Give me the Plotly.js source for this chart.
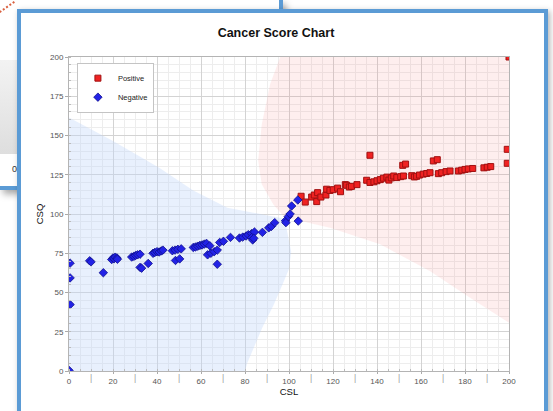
<!DOCTYPE html>
<html>
<head>
<meta charset="utf-8">
<script src="https://cdn.plot.ly/plotly-3.0.1.min.js"></script>
<style>
  html, body { margin:0; padding:0; }
  body { width:553px; height:411px; overflow:hidden; background:#fff; position:relative; font-family:"Liberation Sans", Arial, sans-serif; }
  #back { position:absolute; left:0; top:0; width:279px; height:186px; background:#fff;
          border-right:4px solid #5b9bd5; border-bottom:4px solid #5b9bd5;
          box-shadow:3px 4px 7px rgba(0,0,0,0.35); }
  #backband { position:absolute; left:0; top:60px; width:60px; height:94px;
              background:linear-gradient(to bottom,#f3f3f3,#dedede); }
  #backline { position:absolute; left:-2px; top:6px; width:18px; height:0;
              border-top:2px dotted #d9603f; transform:rotate(-35deg); }
  #backzero { position:absolute; left:12px; top:164px; font-size:9px; color:#333; }
  #frame { position:absolute; left:17px; top:9px; width:523px; height:420px; background:#fff;
           border:4px solid #5b9bd5; box-shadow:2px 2px 6px rgba(0,0,0,0.3); }
  #chart { position:absolute; left:0; top:0; width:553px; height:411px; }
</style>
</head>
<body>
<div id="back"><div id="backband"></div><div id="backline"></div><span id="backzero">0</span></div>
<div id="frame"></div>
<div id="chart"></div>
<script>
// ---- data ----
var chartTitle = 'Cancer Score Chart';
var xTitle = 'CSL';
var yTitle = 'CSQ';
var seriesNames = ['Positive', 'Negative'];

var positiveX = [105.5,107.4,110.3,111.5,113.0,112.6,114.5,116.8,117.1,118.6,120.1,122.1,123.4,125.6,126.2,127.4,128.4,130.9,
                 135.3,136.8,136.8,138.6,140.0,141.5,142.9,144.5,145.4,146.5,147.6,149.0,150.8,152.0,151.7,153.0,
                 155.8,157.0,158.0,159.3,161.0,162.6,164.1,165.6,167.4,167.9,169.4,171.4,173.2,177.0,178.5,180.0,
                 181.5,183.5,188.6,190.1,191.7,199.2,199.2,200.0];
var positiveY = [111.3,107.6,110.8,112.1,113.6,107.9,110.8,112.1,115.8,115.0,115.5,116.5,114.2,118.7,118.3,117.2,117.6,118.7,
                 121.5,120.1,137.4,120.5,121.2,121.9,122.8,123.5,121.6,123.0,124.2,123.2,123.8,124.2,131.0,131.8,
                 124.4,123.6,124.0,124.8,125.4,125.8,126.3,133.8,134.6,125.7,126.3,127.0,127.4,127.4,127.9,128.4,
                 128.7,129.0,129.4,129.8,130.2,141.2,132.3,200.0];

var negativeX = [0.0,0.5,0.5,0.5,9.4,10.0,15.6,19.4,20.0,20.5,21.0,21.8,22.0,28.5,29.5,30.3,31.2,32.3,32.3,33.0,36.0,
                 38.2,39.0,40.0,41.0,42.0,42.7,47.0,48.2,49.5,51.0,48.4,50.3,56.5,57.5,58.5,59.5,60.5,61.5,62.5,64.0,
                 63.0,64.5,66.0,67.4,67.4,68.5,70.2,73.4,77.5,79.0,80.5,81.5,83.0,84.3,83.0,83.5,84.0,87.9,90.8,92.0,
                 93.5,98.4,98.6,99.7,100.5,101.2,104.0,104.2];
var negativeY = [0.4,42.3,59.3,68.7,70.2,69.5,62.6,71.0,72.0,71.5,72.5,72.0,71.2,72.6,73.0,73.6,74.0,74.4,66.0,65.5,68.5,
                 75.0,75.5,76.0,75.8,76.5,77.0,76.6,77.0,77.5,77.8,70.4,71.4,78.7,79.0,79.5,80.0,80.3,80.8,81.3,79.8,
                 74.0,75.0,76.0,68.0,77.0,81.9,82.6,85.1,84.7,85.3,86.0,86.8,87.5,88.5,85.0,83.5,84.5,88.3,91.2,92.1,
                 94.5,95.7,94.5,98.4,100.0,105.1,108.9,95.5];

// shaded decision regions (boundary points)
var negRegionX = [0, 20, 41, 56.5, 72, 87, 98, 101, 100, 97, 93, 88, 84, 81, 80, 0, 0];
var negRegionY = [161.5, 146.5, 129.5, 115, 104, 100, 97, 76, 65, 55, 42, 28, 15, 5, 0, 0, 161.5];
var posRegionX = [96, 91.4, 87.6, 86, 87.6, 92.9, 98, 118.6, 141.4, 164, 182.3, 200, 200, 96];
var posRegionY = [200, 182.6, 157, 134, 119, 106, 98, 91.3, 80.7, 63.7, 46.7, 30.8, 200, 200];

var xMajorTicks = [0,20,40,60,80,100,120,140,160,180,200];
var xBetweenTicks = [10,30,50,70,90,110,130,150,170,190];

// ---- build figure ----
var font = 'Liberation Sans, Arial, sans-serif';
var traces = [
  { x: negRegionX, y: negRegionY, type:'scatter', mode:'lines', fill:'toself',
    fillcolor:'rgba(190,214,250,0.36)', line:{width:0}, showlegend:false, hoverinfo:'skip' },
  { x: posRegionX, y: posRegionY, type:'scatter', mode:'lines', fill:'toself',
    fillcolor:'rgba(245,120,120,0.13)', line:{width:0}, showlegend:false, hoverinfo:'skip' },
  { x: [], y: [], xaxis:'x2', type:'scatter', mode:'markers', showlegend:false, hoverinfo:'skip' },
  { x: positiveX, y: positiveY, name: seriesNames[0], type:'scatter', mode:'markers',
    marker:{symbol:'square', size:6, color:'#f02222', line:{color:'#a01010', width:1}} },
  { x: negativeX, y: negativeY, name: seriesNames[1], type:'scatter', mode:'markers',
    marker:{symbol:'diamond', size:6.5, color:'#2222e6', line:{color:'#10108c', width:0.8}} }
];

var layout = {
  width:553, height:411,
  margin:{l:69, r:44, t:57, b:40, pad:0},
  paper_bgcolor:'rgba(0,0,0,0)', plot_bgcolor:'#ffffff',
  font:{family:font, size:8, color:'#555'},
  title:{text:chartTitle, font:{family:font, size:12.5, weight:'bold', color:'#111'},
         xref:'container', x:276/553, xanchor:'center', yref:'container', y:1-33/411, yanchor:'middle'},
  showlegend:true,
  legend:{x:0.018, y:0.982, xanchor:'left', yanchor:'top', bgcolor:'#fff', bordercolor:'#c4c4c4', borderwidth:1,
          font:{family:font, size:7.5, color:'#222'}, itemwidth:30, tracegroupgap:0},
  xaxis:{range:[0,200], tickvals:xMajorTicks, ticktext:xMajorTicks.map(String),
         showgrid:true, gridcolor:'#d3d3d3', gridwidth:1, zeroline:false,
         showline:true, mirror:true, linecolor:'#b4b4b4', linewidth:1,
         ticks:'outside', ticklen:2, tickcolor:'#aaa',
         tickfont:{family:font, size:8, color:'#555'},
         minor:{dtick:5, showgrid:true, gridcolor:'#ededed', ticks:'inside', ticklen:2, tickcolor:'#bbb'},
         title:{text:xTitle, font:{family:font, size:9.5, color:'#111'}, standoff:0}},
  xaxis2:{range:[0,200], overlaying:'x', anchor:'y', side:'bottom', color:'#999999', tickvals:xBetweenTicks,
          ticktext:xBetweenTicks.map(function(){return '|';}), showgrid:false, zeroline:false, showline:false,
          ticks:'', tickfont:{family:font, size:8.5, color:'#9a9a9a'}},
  yaxis:{range:[0,200], dtick:25, tick0:0,
         showgrid:true, gridcolor:'#d3d3d3', gridwidth:1, zeroline:false,
         showline:true, mirror:true, linecolor:'#b4b4b4', linewidth:1,
         ticks:'outside', ticklen:3, tickcolor:'#aaa',
         tickfont:{family:font, size:8, color:'#555'},
         minor:{dtick:5, showgrid:true, gridcolor:'#ededed', ticks:'inside', ticklen:2, tickcolor:'#bbb'},
         title:{text:yTitle, font:{family:font, size:9.5, color:'#111'}, standoff:4}}
};

Plotly.newPlot('chart', traces, layout, {staticPlot:true, displayModeBar:false});
</script>
</body>
</html>
